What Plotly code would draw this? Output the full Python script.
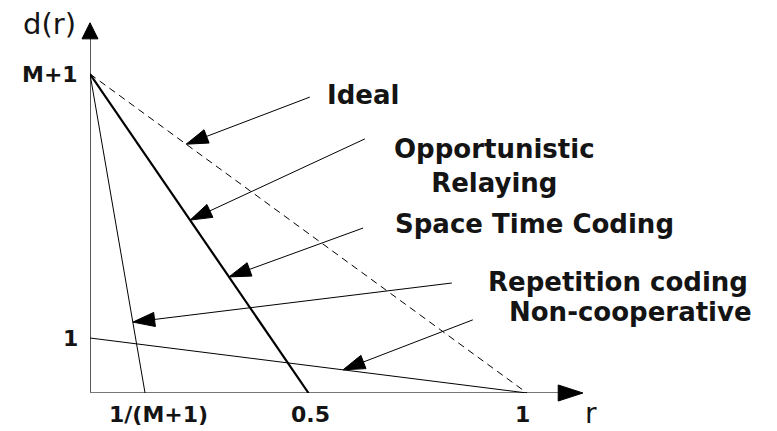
import numpy as np
import plotly.graph_objects as go

# escala del dibujo (es un esquema, no datos medidos)
M_mas_1 = 5.8          # altura del punto M+1 en el eje d(r)
r_rep = 0.126          # posicion de 1/(M+1) en el eje r

# curvas d(r)
ideal_r = [0, 1]
ideal_d = [M_mas_1, 0]
oport_r = [0, 0.5]
oport_d = [M_mas_1, 0]
rep_r = [0, r_rep]
rep_d = [M_mas_1, 0]
nocoop_r = [0, 1]
nocoop_d = [1, 0]

# etiquetas de los ejes
xtick_vals = [r_rep, 0.5, 1]
xtick_text = ["1/(M+1)", "0.5", "1"]
xtick_shift = [13, 2, -5]
ytick_vals = [1, M_mas_1]
ytick_text = ["1", "M+1"]

# flechas de las etiquetas: texto, (r,d) del texto, (r,d) de la cola, r de la punta, curva
etiquetas = ["Ideal", "Opportunistic<br>Relaying", "Space Time Coding",
             "Repetition coding", "Non-cooperative"]
etq_r = [0.625, 0.925, 1.018, 1.208, 1.236]
etq_d = [5.42, 4.13, 3.08, 2.02, 1.47]
cola_r = [0.503, 0.629, 0.625, 0.828, 0.876]
cola_d = [5.38, 4.62, 3.00, 2.00, 1.33]
punta_r = [0.220, 0.229, 0.318, 0.098, 0.579]
curvas = [(ideal_r, ideal_d), (oport_r, oport_d), (oport_r, oport_d),
          (rep_r, rep_d), (nocoop_r, nocoop_d)]

r_fin_eje = 1.128
d_fin_eje = 6.73

negro = "#000000"


def punta(simbolo, tam, **kw):
    # solo el ultimo punto lleva la flecha
    return dict(symbol=simbolo, size=[0, tam], color=negro, opacity=1,
                line=dict(width=1, color=negro), **kw)


fig = go.Figure()

# ejes con flecha
fig.add_trace(go.Scatter(x=[0, 0], y=[0, d_fin_eje], mode="lines+markers",
                         line=dict(color="#222222", width=1.5),
                         marker=punta("arrow-up", 16),
                         cliponaxis=False, hoverinfo="skip"))
fig.add_trace(go.Scatter(x=[0, r_fin_eje], y=[0, 0], mode="lines+markers",
                         line=dict(color="#777777", width=2),
                         marker=punta("arrow", 26, angleref="previous"),
                         cliponaxis=False, hoverinfo="skip"))

# curvas
fig.add_trace(go.Scatter(x=ideal_r, y=ideal_d, mode="lines",
                         line=dict(color=negro, width=1, dash="7px,5px"), cliponaxis=False))
fig.add_trace(go.Scatter(x=oport_r, y=oport_d, mode="lines",
                         line=dict(color=negro, width=2.2), cliponaxis=False))
fig.add_trace(go.Scatter(x=rep_r, y=rep_d, mode="lines",
                         line=dict(color=negro, width=1), cliponaxis=False))
fig.add_trace(go.Scatter(x=nocoop_r, y=nocoop_d, mode="lines",
                         line=dict(color=negro, width=1), cliponaxis=False))

# flechas de las etiquetas, la punta cae sobre la curva
for i in range(len(etiquetas)):
    cr, cd = curvas[i]
    pd_ = np.interp(punta_r[i], cr, cd)
    fig.add_trace(go.Scatter(x=[cola_r[i], punta_r[i]], y=[cola_d[i], pd_],
                             mode="lines+markers",
                             line=dict(color=negro, width=1),
                             marker=punta("arrow", 23, angleref="previous"),
                             cliponaxis=False, hoverinfo="skip"))
    fig.add_annotation(x=etq_r[i], y=etq_d[i], text=etiquetas[i], showarrow=False,
                       xanchor="center", yanchor="middle",
                       font=dict(family="DejaVu Sans", size=26, color="#141414", weight="bold"))

# textos de los ejes
for v, t, s in zip(xtick_vals, xtick_text, xtick_shift):
    fig.add_annotation(x=v, y=0, text=t, showarrow=False, xshift=s, yshift=-21,
                       xanchor="center", yanchor="middle",
                       font=dict(family="DejaVu Sans", size=22, color="#141414", weight="bold"))
for v, t in zip(ytick_vals, ytick_text):
    fig.add_annotation(x=0, y=v, text=t, showarrow=False, xshift=-10,
                       xanchor="right", yanchor="middle",
                       font=dict(family="DejaVu Sans", size=22, color="#141414", weight="bold"))
fig.add_annotation(x=0, y=d_fin_eje, text="d(r)", showarrow=False, xshift=-12, yshift=-1,
                   xanchor="right", yanchor="middle",
                   font=dict(family="DejaVu Sans", size=29, color="#141414"))
fig.add_annotation(x=r_fin_eje, y=0, text="r", showarrow=False, xshift=8, yshift=-20,
                   xanchor="center", yanchor="middle",
                   font=dict(family="DejaVu Sans", size=28, color="#141414"))

# la pagina deja 8 px de margen arriba y a la izquierda, lo descuento
fig.update_layout(
    width=769, height=423,
    margin=dict(l=82, r=0, t=0, b=38),
    plot_bgcolor="white", paper_bgcolor="white",
    showlegend=False,
    xaxis=dict(range=[0, 687 / 437], visible=False),
    yaxis=dict(range=[0, 385 / 55], visible=False),
)

fig.write_html("out.html")
